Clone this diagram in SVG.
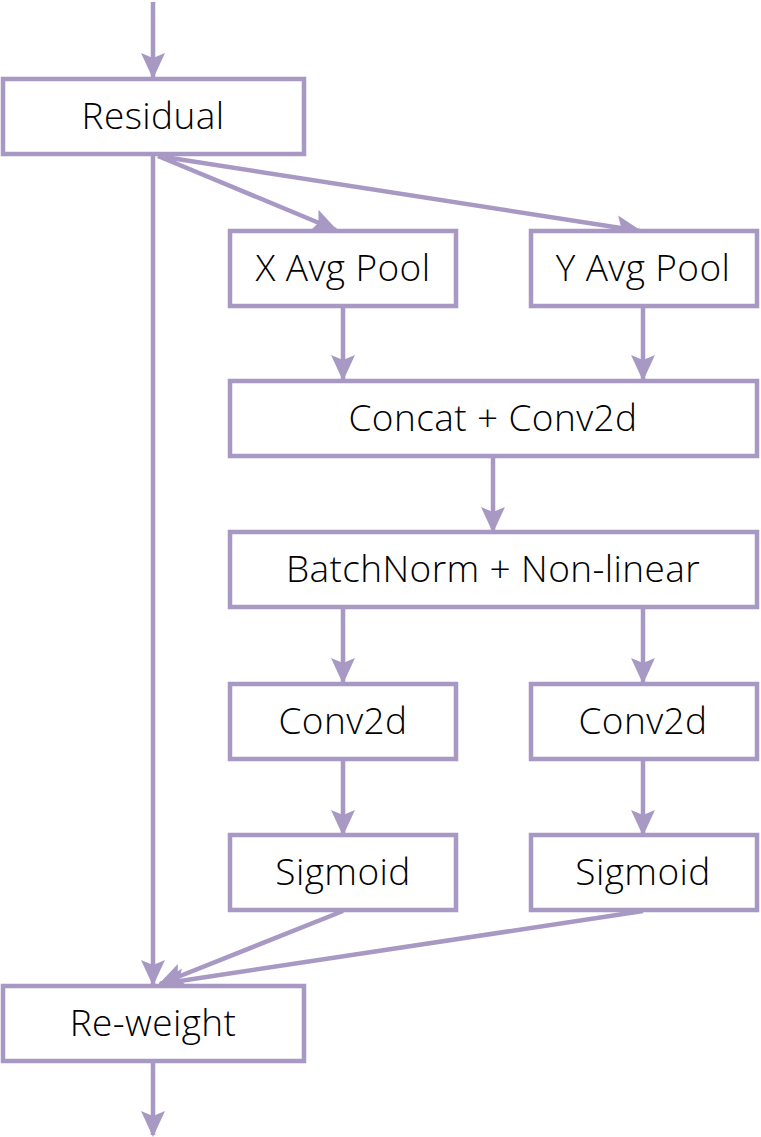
<svg xmlns="http://www.w3.org/2000/svg" width="761" height="1137" viewBox="0 0 761 1137">
<style>
.box{fill:#fff;stroke:#A899C4;stroke-width:4.5}
.lbl{font-family:"Open Sans","Noto Sans","Liberation Sans",sans-serif;font-weight:300;font-size:37px;letter-spacing:0.4px;fill:#000;text-anchor:middle}
.con{fill:none;stroke:#A899C4;stroke-width:4.5;marker-end:url(#ah)}
</style>
<defs>
<marker id="ah" markerUnits="userSpaceOnUse" markerWidth="26" markerHeight="26" viewBox="0 0 26 26" refX="24" refY="13" orient="auto">
<path d="M0,1 L26,13 L0,25 L5,13 Z" fill="#A899C4"/>
</marker>
</defs>
<rect width="761" height="1137" fill="#fff"/>
<g id="connectors">
<line class="con" x1="153" y1="2" x2="153" y2="77"/>
<line class="con" x1="153" y1="156" x2="153" y2="984"/>
<line class="con" x1="158" y1="156" x2="336" y2="230"/>
<line class="con" x1="158" y1="156" x2="640" y2="231"/>
<line class="con" x1="343" y1="307" x2="343" y2="379"/>
<line class="con" x1="643" y1="307" x2="643" y2="379"/>
<line class="con" x1="493" y1="458" x2="493" y2="531"/>
<line class="con" x1="343" y1="608" x2="343" y2="682"/>
<line class="con" x1="643" y1="608" x2="643" y2="682"/>
<line class="con" x1="343" y1="760" x2="343" y2="834"/>
<line class="con" x1="643" y1="760" x2="643" y2="834"/>
<line class="con" x1="343" y1="911" x2="160" y2="984"/>
<line class="con" x1="643" y1="911" x2="160" y2="984"/>
<line class="con" x1="153" y1="1062" x2="153" y2="1135"/>
</g>
<g id="residual"><rect class="box" x="3" y="79" width="301" height="75"/><text class="lbl" x="153" y="129">Residual</text></g>
<g id="xpool"><rect class="box" x="230" y="231" width="226" height="75"/><text class="lbl" x="343" y="281">X Avg Pool</text></g>
<g id="ypool"><rect class="box" x="531" y="231" width="226" height="75"/><text class="lbl" x="643" y="281">Y Avg Pool</text></g>
<g id="concat"><rect class="box" x="230" y="381" width="527" height="75"/><text class="lbl" x="493" y="431">Concat + Conv2d</text></g>
<g id="bn"><rect class="box" x="230" y="532" width="527" height="75"/><text class="lbl" x="493" y="582">BatchNorm + Non-linear</text></g>
<g id="conv-left"><rect class="box" x="230" y="684" width="226" height="75"/><text class="lbl" x="343" y="734">Conv2d</text></g>
<g id="conv-right"><rect class="box" x="531" y="684" width="226" height="75"/><text class="lbl" x="643" y="734">Conv2d</text></g>
<g id="sig-left"><rect class="box" x="230" y="835" width="226" height="75"/><text class="lbl" x="343" y="885">Sigmoid</text></g>
<g id="sig-right"><rect class="box" x="531" y="835" width="226" height="75"/><text class="lbl" x="643" y="885">Sigmoid</text></g>
<g id="reweight"><rect class="box" x="3" y="986" width="301" height="75"/><text class="lbl" x="153" y="1036">Re-weight</text></g>
</svg>
